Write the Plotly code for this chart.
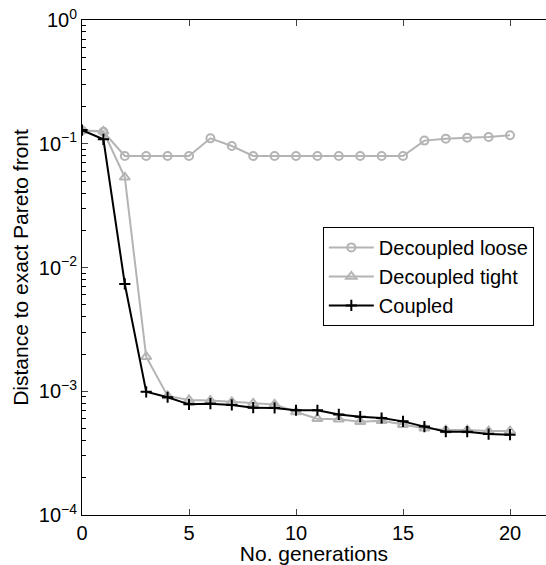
import plotly.graph_objects as go

generations = list(range(21))
loose = [0.128, 0.125, 0.0796, 0.0796, 0.0796, 0.0796, 0.1106, 0.0959, 0.0796, 0.0796,
         0.0796, 0.0796, 0.0796, 0.0796, 0.0796, 0.0796, 0.106, 0.110, 0.112, 0.1135, 0.117]
tight = [0.128, 0.126, 0.0535, 0.0019, 0.000916, 0.00085, 0.00084, 0.00082, 0.000798, 0.000783,
         0.00068, 0.0006, 0.000593, 0.000567, 0.000578, 0.000537, 0.000502, 0.000486, 0.000486,
         0.000477, 0.000477]
coupled = [0.129, 0.1086, 0.00736, 0.00099, 0.000894, 0.000784, 0.000794, 0.000775, 0.000737,
           0.000733, 0.000702, 0.000702, 0.00065, 0.000623, 0.000608, 0.000571, 0.000518,
           0.000471, 0.000471, 0.000451, 0.000446]

x_ticks = [0, 5, 10, 15, 20]
y_tickvals = [1e-4, 1e-3, 1e-2, 1e-1, 1e0]
y_ticktext = ["10<sup>−4</sup>", "10<sup>−3</sup>", "10<sup>−2</sup>", "10<sup>−1</sup>", "10<sup>0</sup>"]
minor_vals = [m * 10.0 ** e for e in range(-4, 0) for m in range(2, 10)]

gray = "rgb(180,180,180)"
font = "Liberation Sans, Arial, Helvetica, sans-serif"

fig = go.Figure()
fig.add_trace(go.Scatter(x=generations, y=loose, name="Decoupled loose", mode="lines+markers",
                         line=dict(color=gray, width=2),
                         marker=dict(symbol="circle-open", size=8, color=gray, line=dict(width=2))))
fig.add_trace(go.Scatter(x=generations, y=tight, name="Decoupled tight", mode="lines+markers",
                         line=dict(color=gray, width=2),
                         marker=dict(symbol="triangle-up-open", size=9, color=gray, line=dict(width=2))))
fig.add_trace(go.Scatter(x=generations, y=coupled, name="Coupled", mode="lines+markers",
                         line=dict(color="black", width=2),
                         marker=dict(symbol="cross-thin", size=8, color="black", line=dict(width=2, color="black"))))

fig.update_layout(
    width=546, height=565,
    margin=dict(l=82, r=0, t=20, b=50),
    paper_bgcolor="white", plot_bgcolor="white",
    font=dict(family=font, size=20, color="black"),
    showlegend=True,
    legend=dict(x=0.519, y=0.582, xanchor="left", yanchor="top",
                bgcolor="white", bordercolor="black", borderwidth=1,
                font=dict(size=20), tracegroupgap=0, itemwidth=45),
    xaxis=dict(range=[0, 464 / 21.4], tickvals=x_ticks, ticks="inside", ticklen=6,
               showline=True, linecolor="black", linewidth=1, mirror="allticks",
               showgrid=False, zeroline=False,
               title=dict(text="No. generations", standoff=3, font=dict(size=21)),
               tickfont=dict(size=20)),
    yaxis=dict(type="log", range=[-4, 0], tickvals=y_tickvals, ticktext=y_ticktext,
               ticks="inside", ticklen=6, showline=True, linecolor="black", linewidth=1,
               showgrid=False, zeroline=False,
               minor=dict(tickvals=minor_vals, ticks="inside", ticklen=4, tickcolor="black"),
               title=dict(text="Distance to exact Pareto front", standoff=4, font=dict(size=21)),
               tickfont=dict(size=20)),
)

fig.write_html("out.html")
